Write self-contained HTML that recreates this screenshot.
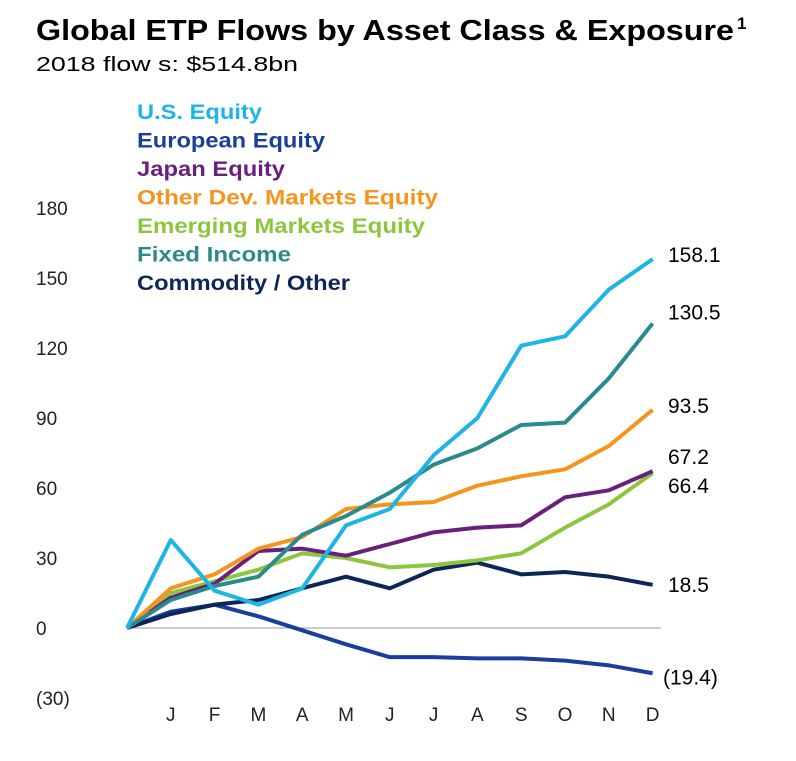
<!DOCTYPE html>
<html><head><meta charset="utf-8"><style>
body{margin:0;background:#fff;font-family:"Liberation Sans",Arial,sans-serif;}
</style></head><body>
<svg id="chart" width="796" height="756" xmlns="http://www.w3.org/2000/svg">
<text x="36" y="40" font-size="29" font-weight="bold" fill="#000" textLength="698" lengthAdjust="spacingAndGlyphs">Global ETP Flows by Asset Class &amp; Exposure</text>
<text x="737" y="29" font-size="17" font-weight="bold" fill="#000">1</text>
<text x="36" y="71" font-size="20" fill="#000" textLength="262" lengthAdjust="spacingAndGlyphs">2018 flow s: $514.8bn</text>
<g id="yaxis"></g><g id="xaxis"></g><g id="lines"></g><g id="endlabels"></g><g id="legend"></g>
</svg>
<script>
const months=["J","F","M","A","M","J","J","A","S","O","N","D"];
const yTicks=[180,150,120,90,60,30,0,-30];
const seriesNames=["U.S. Equity","European Equity","Japan Equity","Other Dev. Markets Equity","Emerging Markets Equity","Fixed Income","Commodity / Other"];
const colors=["#1db4e6","#1a3e9c","#6a1f7d","#f7941d","#8cc63f","#2a8a8c","#0e2557"];
const usEquity=[0,37.7,16,10,17,44,51,74,90,121,125,145,158.1];
const europeanEquity=[0,7,10,5,-1,-7,-12.5,-12.5,-13,-13,-14,-16,-19.4];
const japanEquity=[0,13,19,33,34,31,36,41,43,44,56,59,67.2];
const otherDevEquity=[0,17,23,34,39,51,53,54,61,65,68,78,93.5];
const emEquity=[0,15,20,25,32,30,26,27,29,32,43,53,66.4];
const fixedIncome=[0,12,18,22,40,48,58,70,77,87,88,107,130.5];
const commodity=[0,6,10,12,17,22,17,25,28,23,24,22,18.5];
const endLabels=["158.1","(19.4)","67.2","93.5","66.4","130.5","18.5"];
const allSeries=[usEquity,europeanEquity,japanEquity,otherDevEquity,emEquity,fixedIncome,commodity];
const legendWidths=[125,188,148,301,288,154,213];
const labelOffsets=[3,11,-7,3,20,-4,7];
const NS="http://www.w3.org/2000/svg";
const y=v=>628-v*70/30;
const x=i=>127+i*43.8;
function mk(tag,attrs,parent,txt){const e=document.createElementNS(NS,tag);for(const k in attrs)e.setAttribute(k,attrs[k]);if(txt!==undefined)e.textContent=txt;parent.appendChild(e);return e;}
const ya=document.getElementById('yaxis');
yTicks.forEach(t=>{const e=mk('text',{x:36,y:y(t)+7,'font-size':19,fill:'#222'},ya,t<0?'('+(-t)+')':String(t));

});
const xa=document.getElementById('xaxis');
const ax=mk('line',{x1:x(0),x2:x(12)+8,y1:y(0),y2:y(0),stroke:'#999','stroke-width':1},xa);


months.forEach((m,i)=>{const e=mk('text',{x:x(i+1),y:721,'font-size':19,fill:'#222','text-anchor':'middle'},xa,m);

});
const lg=document.getElementById('lines');
const ord=[1,6,4,2,3,5,0];
ord.forEach(s=>{const pts=allSeries[s].map((v,i)=>x(i)+','+y(v)).join(' ');
const p=mk('polyline',{points:pts,fill:'none',stroke:colors[s],'stroke-width':4,'stroke-linejoin':'round'},lg);

});
const el=document.getElementById('endlabels');
allSeries.forEach((d,s)=>{const v=d[d.length-1];const e=mk('text',{x:s==1?663:668,y:y(v)+labelOffsets[s],'font-size':21,fill:'#000'},el,endLabels[s]);

});
const le=document.getElementById('legend');
seriesNames.forEach((n,i)=>{const e=mk('text',{x:137,y:119+i*28.5,'font-size':21,'font-weight':'bold',fill:colors[i],textLength:legendWidths[i],lengthAdjust:'spacingAndGlyphs'},le,n);

});
</script>
</body></html>
